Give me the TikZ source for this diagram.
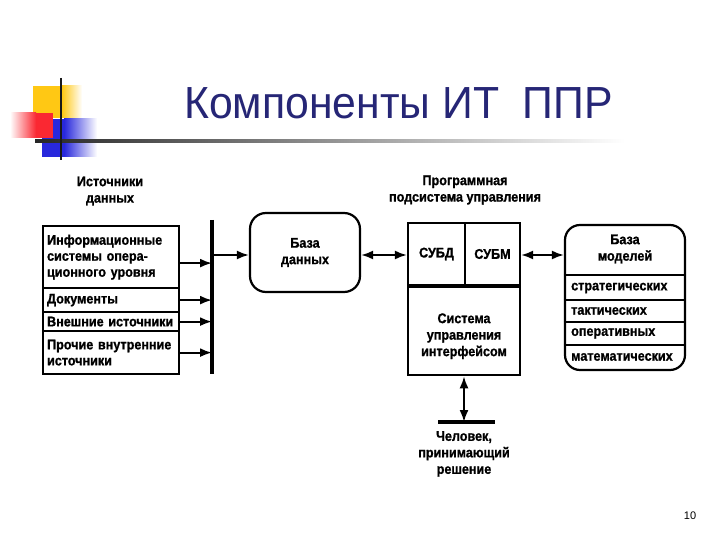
\documentclass[tikz,border=0pt]{standalone}
\usepackage{fontspec}
\setmainfont{Liberation Sans}
\newfontfamily\dfont[FakeStretch=0.9,BoldFeatures={FakeBold=1}]{Liberation Sans}
\newfontfamily\tfont[FakeStretch=0.95]{Liberation Sans}
\usetikzlibrary{arrows.meta,positioning}
\definecolor{titleblue}{RGB}{38,38,118}
\definecolor{logoyellow}{RGB}{255,200,20}
\definecolor{logored}{RGB}{250,40,50}
\definecolor{logoblue}{RGB}{40,40,220}
\tikzset{
  box/.style={draw,line width=2.2pt,rectangle,inner sep=4pt},
  row/.style={box,anchor=north west,minimum width=136pt,text width=128pt,align=left,font=\dfont\bfseries\fontsize{14}{16}\selectfont},
  lbl/.style={align=center,font=\dfont\bfseries\fontsize{14}{16.5}\selectfont,inner sep=0pt},
  mtext/.style={anchor=west,font=\dfont\bfseries\fontsize{14}{16}\selectfont,inner sep=0pt},
  arr/.style={line width=2pt,-{Latex[length=12pt,width=9pt]}},
  darr/.style={line width=2pt,{Latex[length=12pt,width=9pt]}-{Latex[length=12pt,width=9pt]}},
  bar/.style={line width=3.5pt},
}
\begin{document}
\begin{tikzpicture}[x=1pt,y=-1pt]
\useasboundingbox (0,0) rectangle (720,540);
\fill[white] (0,0) rectangle (720,540);
% logo
\fill[logoyellow] (33,86) rectangle (62,118);
\shade[left color=logoyellow,right color=white] (62,86) rectangle (82,118);
\fill[logoblue] (42,119) rectangle (64,157);
\shade[left color=logoblue,right color=white] (64,119) rectangle (97,157);
\shade[left color=white,right color=logored] (10,113) rectangle (36,138);
\fill[logored] (36,113) rectangle (53,138);
\shade[left color=black!85,right color=white] (35,139.5) rectangle (625,142.5);
\draw[line width=2.2pt,black!90] (61,78) -- (61,160);
% title
\node[font=\tfont\fontsize{45}{50}\selectfont,text=titleblue,inner sep=0pt,anchor=base west] (title) at (184,119) {Компоненты ИТ\ \ ППР};
% sources
\node[lbl] (srct) at (110,191) {Источники\\данных};
\node[row,minimum height=62pt] (s1) at (42,225) {Информационные\\системы опера-\\ционного уровня};
\node[row,minimum height=24pt] (s2) at (42,287) {Документы};
\node[row,minimum height=19pt] (s3) at (42,311) {Внешние источники};
\node[row,minimum height=43pt] (s4) at (42,330) {Прочие внутренние\\источники};
\coordinate (bt) at (212,220);
\coordinate (bb) at (212,374);
\draw[bar] (bt) -- (bb);
\draw[arr] ([yshift=-6pt]s1.east) -- ([yshift=-6pt]s1.east -| bt);
\draw[arr] (s2.east) -- (s2.east -| bt);
\draw[arr] (s3.east) -- (s3.east -| bt);
\draw[arr] (s4.east) -- (s4.east -| bt);
% database
\node[box,rounded corners=16pt,minimum width=110pt,minimum height=79pt,lbl,draw,line width=2.2pt] (db) at (305,252.5) {База\\данных};
\draw[arr] (214,255) -- (db.west |- 0,255);
% program subsystem
\node[lbl] (pst) at (465,190) {Программная\\подсистема управления};
\node[box,minimum width=57pt,minimum height=62pt,lbl] (subd) at (436.5,254) {СУБД};
\node[box,minimum width=55pt,minimum height=62pt,lbl,right=-2.2pt of subd] (subm) {СУБМ};
\node[box,minimum width=112pt,minimum height=88pt,anchor=north west] (sui) at (subd.south west) {};
\node[lbl] (suit) at ([yshift=-5pt]sui.center) {Система\\управления\\интерфейсом};
\draw[darr] (db.east |- 0,255) -- (subd.west |- 0,255);
% models
\node[box,rounded corners=15pt,minimum width=120pt,minimum height=145pt] (mb) at (625,297.5) {};
\node[lbl] (mbt) at (625,249) {База\\моделей};
\draw[line width=2pt] (mb.west |- 0,275) -- (mb.east |- 0,275);
\draw[line width=2pt] (mb.west |- 0,300) -- (mb.east |- 0,300);
\draw[line width=2pt] (mb.west |- 0,322) -- (mb.east |- 0,322);
\draw[line width=2pt] (mb.west |- 0,345) -- (mb.east |- 0,345);
\node[mtext] (m1) at (571,288) {стратегических};
\node[mtext] (m2) at (571,311) {тактических};
\node[mtext] (m3) at (571,333.5) {оперативных};
\node[mtext] (m4) at (571,357) {математических};
\draw[darr] (subm.east |- 0,255) -- (mb.west |- 0,255);
% person
\coordinate (hl) at (438,422);
\coordinate (hr) at (495,422);
\draw[bar] (hl) -- (hr);
\draw[darr] (sui.south) -- (sui.south |- hl);
\node[lbl,below=9pt of sui.south |- hl] (person) {Человек,\\принимающий\\решение};
% page number
\node[font=\fontsize{11}{13}\selectfont] (pg) at (690,516) {10};
\end{tikzpicture}
\end{document}
